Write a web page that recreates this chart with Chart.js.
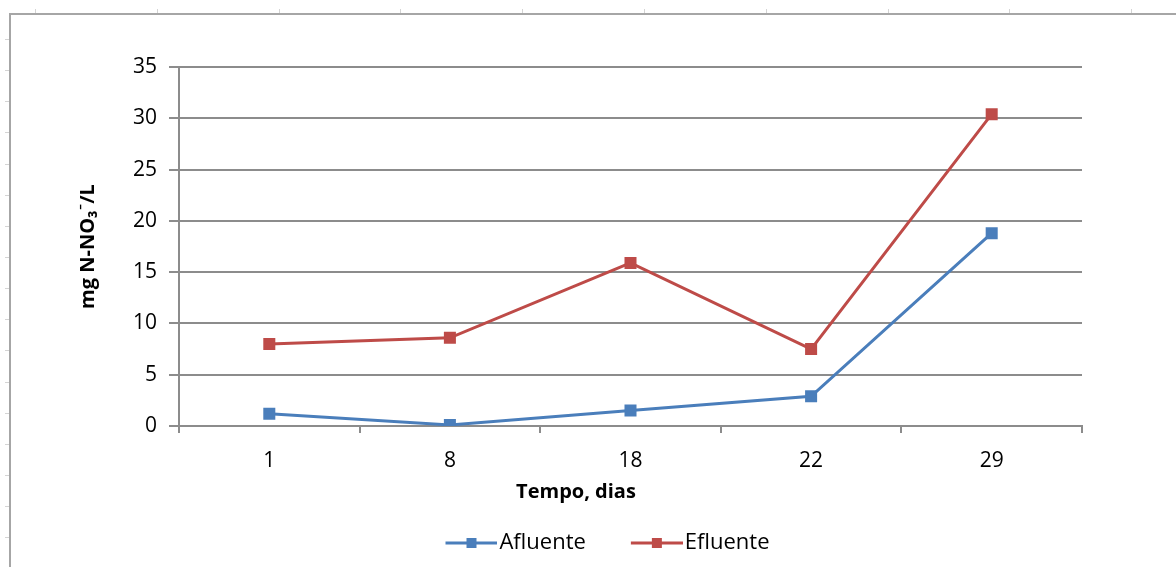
<!DOCTYPE html>
<html>
<head>
<meta charset="utf-8">
<script src="https://cdn.jsdelivr.net/npm/chart.js@4/dist/chart.umd.min.js"></script>
<style>
  html, body { margin: 0; padding: 0; background: #fff; }
  #wrap { position: relative; width: 1176px; height: 567px; }
</style>
</head>
<body>
<div id="wrap"><canvas id="chart"></canvas></div>
<script>
// Nitrate (mg N-NO3-/L) over the sampling days
const days = ['1', '8', '18', '22', '29'];
const afluente = [1.2, 0.1, 1.5, 2.9, 18.8];
const efluente = [8.0, 8.6, 15.9, 7.5, 30.4];
const yTicks = [0, 5, 10, 15, 20, 25, 30, 35];

const BLUE = '#4a7ebb';
const RED = '#be4b48';
const AXIS = '#8c8c8c';
const FONT = '"Open Sans", Lato, sans-serif';

// Legend swatch: line with a square marker, drawn on the right part of the icon
function legendIcon(color) {
  const c = document.createElement('canvas');
  c.width = 96; c.height = 14;
  const g = c.getContext('2d');
  g.strokeStyle = color;
  g.lineWidth = 3;
  g.beginPath();
  g.moveTo(c.width - 52, 7);
  g.lineTo(c.width, 7);
  g.stroke();
  g.fillStyle = color;
  g.fillRect(c.width - 26 - 5, 2, 10, 10);
  return c;
}
const icons = [legendIcon(BLUE), legendIcon(RED)];

// Worksheet frame behind the chart
const sheetFrame = {
  id: 'sheetFrame',
  beforeDraw(chart) {
    const ctx = chart.ctx;
    ctx.save();
    ctx.strokeStyle = '#d4d4d4';
    ctx.lineWidth = 1;
    ctx.beginPath();
    for (let x = 35; x < chart.width; x += 121.8) {
      ctx.moveTo(Math.round(x) + 0.5, 9);
      ctx.lineTo(Math.round(x) + 0.5, 13);
    }
    for (let y = 39; y < chart.height; y += 31.15) {
      ctx.moveTo(5, Math.round(y) + 0.5);
      ctx.lineTo(9, Math.round(y) + 0.5);
    }
    ctx.stroke();
    ctx.strokeStyle = '#a6a6a6';
    ctx.lineWidth = 2;
    ctx.beginPath();
    ctx.moveTo(10, chart.height);
    ctx.lineTo(10, 14);
    ctx.lineTo(chart.width, 14);
    ctx.stroke();
    ctx.restore();
  }
};

// Move the legend block sideways after layout
const legendShift = {
  id: 'legendShift',
  afterLayout(chart) {
    if (chart.legend) {
      chart.legend.left += 14;
      chart.legend.right += 14;
    }
  }
};

new Chart(document.getElementById('chart'), {
  type: 'line',
  data: {
    labels: days,
    datasets: [
      {
        label: 'Afluente',
        data: afluente,
        borderColor: BLUE,
        backgroundColor: BLUE,
        borderWidth: 3,
        pointStyle: 'rect',
        pointRadius: 8.5,
        pointBorderWidth: 0,
        tension: 0
      },
      {
        label: 'Efluente',
        data: efluente,
        borderColor: RED,
        backgroundColor: RED,
        borderWidth: 3,
        pointStyle: 'rect',
        pointRadius: 8.5,
        pointBorderWidth: 0,
        tension: 0
      }
    ]
  },
  options: {
    responsive: true,
    maintainAspectRatio: false,
    animation: false,
    layout: { padding: { left: 70, right: 94, top: 67, bottom: 3 } },
    scales: {
      x: {
        offset: true,
        grid: { offset: true, drawOnChartArea: false, tickLength: 7, color: AXIS, lineWidth: 2 },
        border: { color: AXIS, width: 2 },
        ticks: { color: '#000', padding: 15.4, maxRotation: 0, font: { family: FONT, size: 21 } }
      },
      y: {
        min: yTicks[0],
        max: yTicks[yTicks.length - 1],
        afterFit(scale) { scale.width = 109; },
        grid: { color: AXIS, lineWidth: 2, tickLength: 10 },
        border: { color: AXIS, width: 2 },
        ticks: { stepSize: yTicks[1] - yTicks[0], color: '#000', padding: 12, font: { family: FONT, size: 21 } },
        title: {
          display: true,
          text: 'mg N-NO₃⁻/L',
          color: '#000',
          padding: { top: 6, bottom: 0 },
          font: { family: FONT, size: 20, weight: 'bold' }
        }
      }
    },
    plugins: {
      tooltip: { enabled: false },
      title: {
        display: true,
        position: 'bottom',
        text: 'Tempo, dias',
        color: '#000',
        weight: 500,
        padding: { top: -9, bottom: 18 },
        font: { family: FONT, size: 20, weight: 'bold' }
      },
      legend: {
        position: 'bottom',
        labels: {
          color: '#000',
          usePointStyle: true,
          pointStyleWidth: 78,
          padding: 10,
          font: { family: FONT, size: 22 },
          generateLabels(chart) {
            const items = Chart.defaults.plugins.legend.labels.generateLabels(chart);
            items.forEach(it => { it.pointStyle = icons[it.datasetIndex]; });
            return items;
          }
        }
      }
    }
  },
  plugins: [sheetFrame, legendShift]
});
</script>
</body>
</html>
